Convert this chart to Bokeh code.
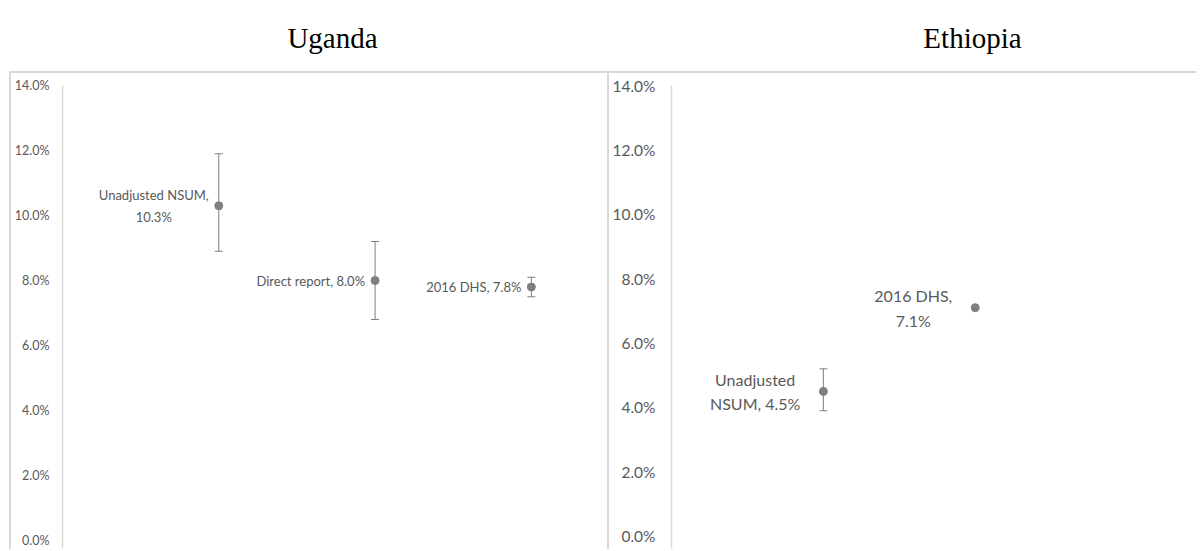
from bokeh.plotting import figure
from bokeh.models import (ColumnDataSource, Whisker, TeeHead, FixedTicker,
                          PrintfTickFormatter, Range1d, Spacer)
from bokeh.layouts import column, row
from bokeh.embed import file_html
from bokeh.resources import INLINE
from bokeh.core.properties import value

# Uganda: prevalence estimates (%) with 95% intervals
uga_names = ["Unadjusted NSUM,\n", "Direct report, ", "2016 DHS, "]
uga_pos = [1, 2, 3]
uga_est = [10.3, 8.0, 7.8]
uga_lower = [8.9, 6.8, 7.5]
uga_upper = [11.9, 9.2, 8.1]

# Ethiopia: the DHS figure is shown without an interval
eth_names = ["Unadjusted\nNSUM, ", "2016 DHS,\n"]
eth_pos = [1, 2]
eth_est = [4.5, 7.1]
eth_lower = [3.9, None]
eth_upper = [5.2, None]

y_ticks = [0, 2, 4, 6, 8, 10, 12, 14]
panel_titles = ["Uganda", "Ethiopia"]

GRAY_TEXT = "#595959"
GRAY_MARK = "#7f7f7f"
RULE = "#d9d9d9"
FONT = "Lato"
PANEL_H = 478


def make_panel(names, pos, est, lower, upper, *, width, min_left, y_start,
               x_end, tick_size, label_size, label_gap, standoff, line_h):
    labels = [f"{n}{v:.1f}%" for n, v in zip(names, est)]
    src = ColumnDataSource(dict(x=pos, y=est, label=labels))
    err = [(x, lo, hi) for x, lo, hi in zip(pos, lower, upper) if lo is not None]
    err_src = ColumnDataSource(dict(x=[e[0] for e in err],
                                    lower=[e[1] for e in err],
                                    upper=[e[2] for e in err]))

    p = figure(width=width, height=PANEL_H,
               x_range=Range1d(0, x_end), y_range=Range1d(y_start, 14),
               x_axis_type=None, output_backend="svg", toolbar_location=None,
               min_border_left=min_left, min_border_right=0,
               min_border_top=12, min_border_bottom=3,
               outline_line_color=None,
               background_fill_color="white", border_fill_color="white",
               styles={"border-top": f"2px solid {RULE}",
                       "border-left": f"2px solid {RULE}"})
    p.grid.visible = False

    ax = p.yaxis[0]
    ax.ticker = FixedTicker(ticks=y_ticks)
    ax.formatter = PrintfTickFormatter(format="%.1f%%")
    ax.major_tick_line_color = None
    ax.minor_tick_line_color = None
    ax.major_tick_out = 0
    ax.major_tick_in = 0
    ax.minor_tick_out = 0
    ax.axis_line_color = RULE
    ax.axis_line_width = 1.5
    ax.major_label_text_font = FONT
    ax.major_label_text_font_size = f"{tick_size}px"
    ax.major_label_text_color = GRAY_TEXT
    ax.major_label_standoff = standoff

    head = dict(size=8, line_color=GRAY_MARK, line_width=1)
    p.add_layout(Whisker(base="x", lower="lower", upper="upper", source=err_src,
                         dimension="height", line_color=GRAY_MARK, line_width=1,
                         lower_head=TeeHead(**head), upper_head=TeeHead(**head)))

    p.scatter("x", "y", source=src, size=8, fill_color=GRAY_MARK,
              line_color=GRAY_MARK)
    p.text("x", "y", text="label", source=src, x_offset=-label_gap,
           anchor="center_right", text_align="center", text_baseline="middle",
           text_font=value(FONT), text_font_size=f"{label_size}px",
           text_color=GRAY_TEXT, text_line_height=line_h)
    return p


left = make_panel(uga_names, uga_pos, uga_est, uga_lower, uga_upper,
                  width=598, min_left=49, y_start=-0.246, x_end=3.5,
                  tick_size=12.5, label_size=13, label_gap=10, standoff=13,
                  line_h=1.35)
right = make_panel(eth_names, eth_pos, eth_est, eth_lower, eth_upper,
                   width=589, min_left=61, y_start=-0.38, x_end=3.47,
                   tick_size=15.5, label_size=16, label_gap=23, standoff=16,
                   line_h=1.3)

# Country headings above the two panels
top = figure(width=1200, height=71, x_range=Range1d(0, 1200),
             y_range=Range1d(71, 0), x_axis_type=None, y_axis_type=None,
             output_backend="svg", toolbar_location=None, min_border=0,
             outline_line_color=None)
top.grid.visible = False
top.text(x=[332, 972], y=[37, 37], text=panel_titles,
         text_font=value("Liberation Serif"), text_font_size="29px",
         text_align="center", text_baseline="alphabetic", text_color="black")

layout = column(top, row(Spacer(width=9, height=PANEL_H), left, right))

open("out.html", "w").write(file_html(layout, INLINE))
